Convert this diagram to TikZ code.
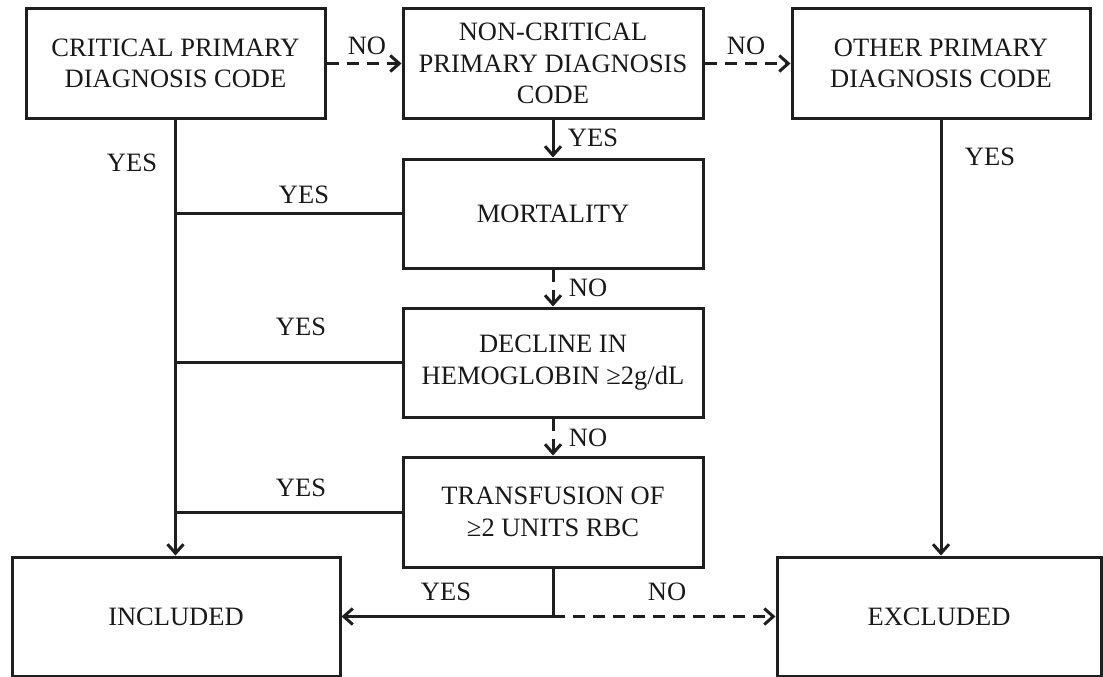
\documentclass[tikz,border=0pt]{standalone}
\usepackage{fontspec}
\setmainfont{Liberation Serif}
\usetikzlibrary{arrows.meta}
\begin{document}
\begin{tikzpicture}[x=1pt,y=-1pt,
  box/.style={draw=black!88,line width=3pt,rectangle,inner sep=0pt,align=center,
    font=\fontsize{26.5}{31.5}\selectfont,text=black!90},
  lbl/.style={inner sep=0pt,font=\fontsize{26.5}{31.5}\selectfont,text=black!90},
  conn/.style={draw=black!88,line width=3pt},
  arr/.style={conn,-{Straight Barb[length=9pt,width=16pt]}},
  dsh/.style={dash pattern=on 12pt off 8pt}]
\useasboundingbox (0,0) rectangle (1103,677);
\node[box,minimum width=299pt,minimum height=109pt] (A) at (175.5,63.5) {CRITICAL PRIMARY\\DIAGNOSIS CODE};
\node[box,minimum width=300pt,minimum height=109pt] (B) at (553,63.5) {NON-CRITICAL\\PRIMARY DIAGNOSIS\\CODE};
\node[box,minimum width=298pt,minimum height=109pt] (C) at (941,63.5) {OTHER PRIMARY\\DIAGNOSIS CODE};
\node[box,minimum width=300pt,minimum height=109pt] (M) at (553,213.5) {MORTALITY};
\node[box,minimum width=300pt,minimum height=109pt] (D) at (553,362.5) {DECLINE IN\\HEMOGLOBIN ≥2g/dL};
\node[box,minimum width=300pt,minimum height=110pt] (T) at (553,512) {TRANSFUSION OF\\≥2 UNITS RBC};
\node[box,minimum width=328pt,minimum height=119pt] (I) at (176,616.5) {INCLUDED};
\node[box,minimum width=324pt,minimum height=119pt] (E) at (939,616.5) {EXCLUDED};
\coordinate (j) at (553,616.5);
% connectors
\draw[arr,dsh] (A.east) -- (B.west);
\draw[arr,dsh] (B.east) -- (C.west);
\draw[arr] (B.south) -- (M.north);
\draw[arr,dsh] (M.south) -- (D.north);
\draw[arr,dsh] (D.south) -- (T.north);
\draw[arr] (A.south) -- (A.south |- I.north);
\draw[conn] (M.west) -- (M.west -| A.south);
\draw[conn] (D.west) -- (D.west -| A.south);
\draw[conn] (T.west) -- (T.west -| A.south);
\draw[arr] (C.south) -- (C.south |- E.north);
\draw[conn] (T.south) -- (j);
\draw[arr] (j) -- (I.east);
\draw[arr,dsh] (j) -- (E.west);
% labels
\node[lbl] (noAB) at (367,46) {NO};
\node[lbl] (noBC) at (746,46) {NO};
\node[lbl] (yesB) at (593,138) {YES};
\node[lbl] (noM) at (588,288) {NO};
\node[lbl] (noD) at (588,438) {NO};
\node[lbl] (yesA) at (132,163) {YES};
\node[lbl] (yesM) at (304,195) {YES};
\node[lbl] (yesD) at (301,327) {YES};
\node[lbl] (yesT) at (301,488) {YES};
\node[lbl] (yesC) at (990,157) {YES};
\node[lbl] (yesJ) at (446,592) {YES};
\node[lbl] (noJ) at (667,592) {NO};
\end{tikzpicture}
\end{document}
